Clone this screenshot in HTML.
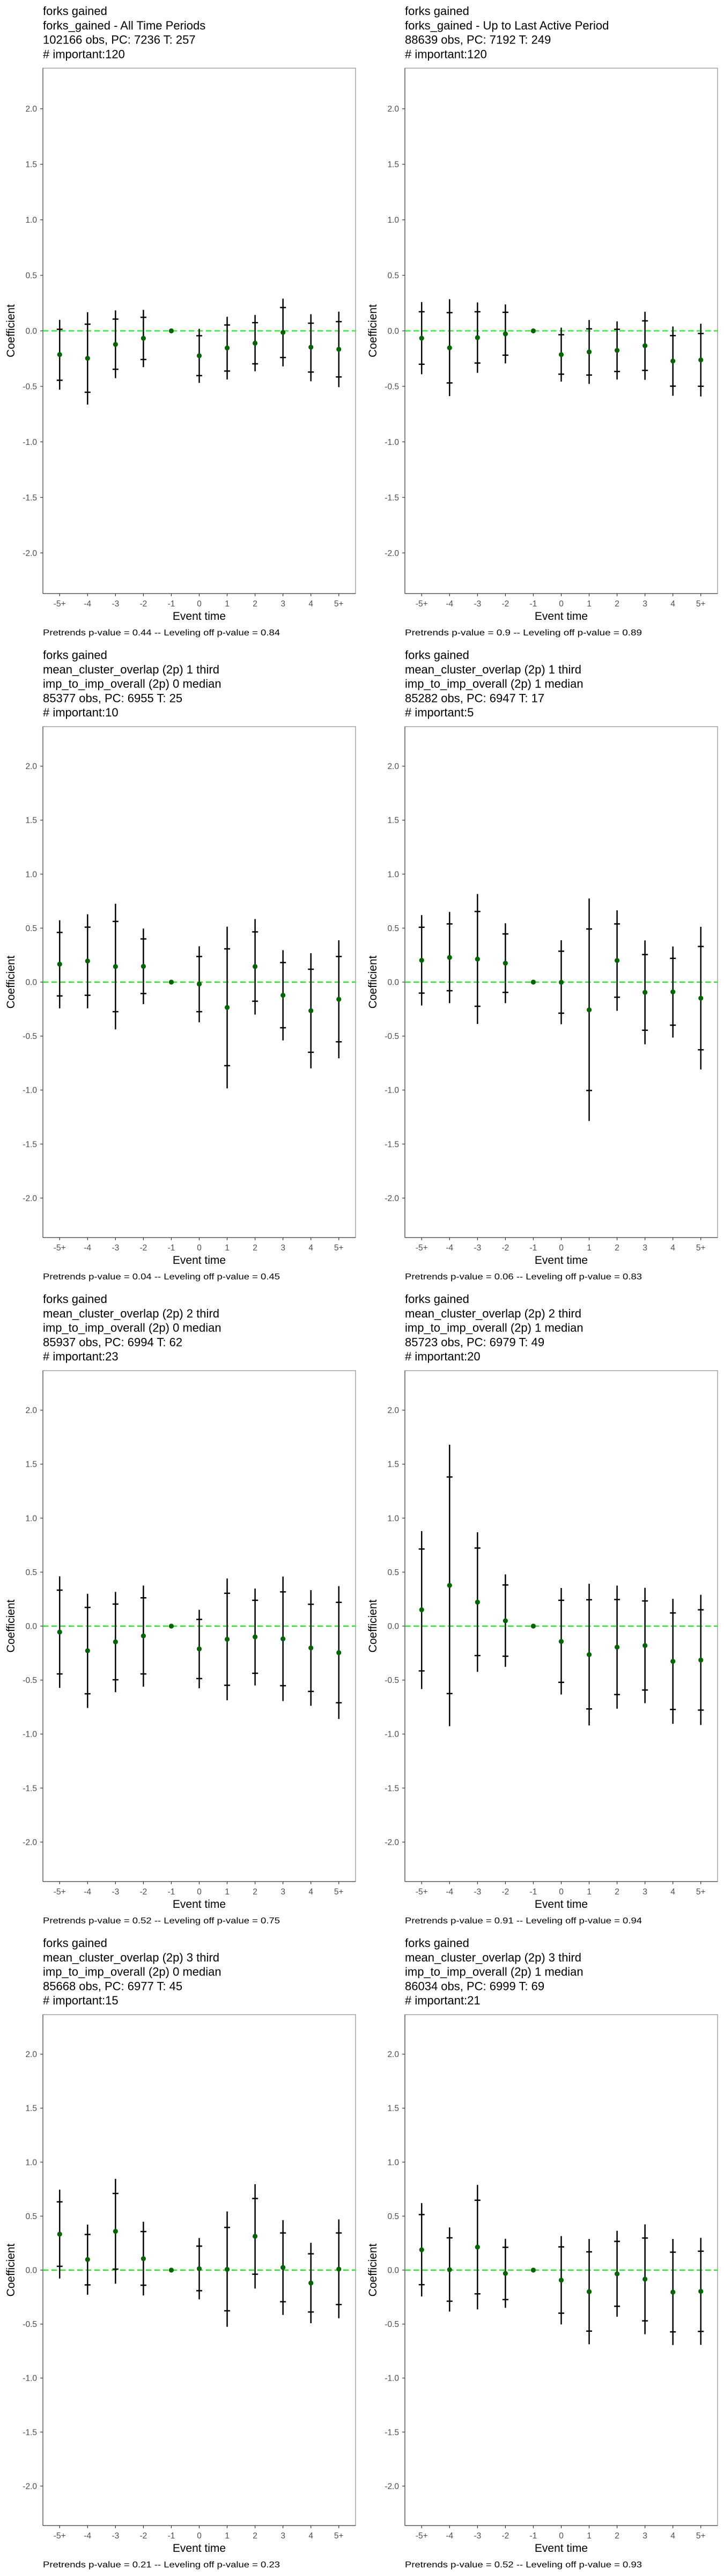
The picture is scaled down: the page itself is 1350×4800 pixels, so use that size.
<!DOCTYPE html>
<html><head><meta charset="utf-8">
<style>
html,body{margin:0;padding:0;background:#fff;}
svg{display:block;font-family:"Liberation Sans",Arial,sans-serif;}
</style></head>
<body>
<svg id="chart" width="1350" height="4800" viewBox="0 0 1350 4800" xmlns="http://www.w3.org/2000/svg"></svg>
<script>
const categories = ["-5+","-4","-3","-2","-1","0","1","2","3","4","5+"];
const yTicks = [-2.0,-1.5,-1.0,-0.5,0.0,0.5,1.0,1.5,2.0];
const yTickLabels = ["-2.0","-1.5","-1.0","-0.5","0.0","0.5","1.0","1.5","2.0"];
const titles = [
 ["forks gained","forks_gained - All Time Periods","102166 obs, PC: 7236 T: 257","# important:120"],
 ["forks gained","forks_gained - Up to Last Active Period","88639 obs, PC: 7192 T: 249","# important:120"],
 ["forks gained","mean_cluster_overlap (2p) 1 third","imp_to_imp_overall (2p) 0 median","85377 obs, PC: 6955 T: 25","# important:10"],
 ["forks gained","mean_cluster_overlap (2p) 1 third","imp_to_imp_overall (2p) 1 median","85282 obs, PC: 6947 T: 17","# important:5"],
 ["forks gained","mean_cluster_overlap (2p) 2 third","imp_to_imp_overall (2p) 0 median","85937 obs, PC: 6994 T: 62","# important:23"],
 ["forks gained","mean_cluster_overlap (2p) 2 third","imp_to_imp_overall (2p) 1 median","85723 obs, PC: 6979 T: 49","# important:20"],
 ["forks gained","mean_cluster_overlap (2p) 3 third","imp_to_imp_overall (2p) 0 median","85668 obs, PC: 6977 T: 45","# important:15"],
 ["forks gained","mean_cluster_overlap (2p) 3 third","imp_to_imp_overall (2p) 1 median","86034 obs, PC: 6999 T: 69","# important:21"]
];
const pretrendsP = ["0.44","0.9","0.04","0.06","0.52","0.91","0.21","0.52"];
const levelingP = ["0.84","0.89","0.45","0.83","0.75","0.94","0.23","0.93"];
const est = [
 [-0.214,-0.247,-0.122,-0.067,0,-0.224,-0.154,-0.111,-0.014,-0.147,-0.166],
 [-0.066,-0.153,-0.061,-0.027,0,-0.214,-0.190,-0.176,-0.134,-0.272,-0.262],
 [0.166,0.195,0.144,0.146,0,-0.018,-0.235,0.144,-0.122,-0.265,-0.159],
 [0.202,0.228,0.213,0.175,0,-0.002,-0.257,0.200,-0.095,-0.091,-0.149],
 [-0.055,-0.228,-0.146,-0.091,0,-0.211,-0.122,-0.100,-0.118,-0.202,-0.246],
 [0.151,0.377,0.222,0.049,0,-0.142,-0.264,-0.195,-0.180,-0.326,-0.315],
 [0.333,0.098,0.359,0.106,0,0.013,0.007,0.313,0.024,-0.120,0.009],
 [0.188,0.004,0.213,-0.031,0,-0.093,-0.200,-0.035,-0.084,-0.204,-0.197]
];
const innerHi = [
 [0.014,0.060,0.106,0.122,null,-0.044,0.053,0.074,0.210,0.069,0.083],
 [0.172,0.164,0.172,0.167,null,-0.035,0.018,0.014,0.090,-0.043,-0.024],
 [0.460,0.509,0.562,0.400,null,0.237,0.308,0.465,0.181,0.119,0.237],
 [0.508,0.539,0.654,0.446,null,0.286,0.492,0.539,0.255,0.220,0.330],
 [0.333,0.173,0.204,0.262,null,0.062,0.304,0.239,0.317,0.202,0.220],
 [0.714,1.381,0.723,0.381,null,0.239,0.244,0.246,0.233,0.122,0.151],
 [0.632,0.330,0.710,0.357,null,0.222,0.395,0.663,0.344,0.151,0.344],
 [0.514,0.299,0.647,0.211,null,0.215,0.169,0.266,0.297,0.166,0.175]
];
const innerLo = [
 [-0.445,-0.553,-0.346,-0.258,null,-0.403,-0.362,-0.297,-0.240,-0.371,-0.415],
 [-0.301,-0.469,-0.290,-0.219,null,-0.390,-0.398,-0.366,-0.356,-0.498,-0.499],
 [-0.128,-0.122,-0.274,-0.106,null,-0.274,-0.774,-0.177,-0.423,-0.650,-0.553],
 [-0.102,-0.080,-0.224,-0.095,null,-0.288,-1.004,-0.140,-0.446,-0.399,-0.627],
 [-0.443,-0.627,-0.497,-0.443,null,-0.486,-0.548,-0.437,-0.552,-0.605,-0.710],
 [-0.415,-0.625,-0.273,-0.279,null,-0.521,-0.767,-0.634,-0.592,-0.772,-0.778],
 [0.035,-0.137,0.009,-0.140,null,-0.191,-0.377,-0.038,-0.293,-0.388,-0.319],
 [-0.135,-0.288,-0.220,-0.273,null,-0.399,-0.565,-0.335,-0.470,-0.572,-0.568]
];
const outerHi = [
 [0.099,0.168,0.184,0.189,null,0.018,0.127,0.143,0.290,0.150,0.173],
 [0.259,0.285,0.256,0.238,null,0.029,0.098,0.085,0.172,0.039,0.064],
 [0.573,0.628,0.726,0.496,null,0.332,0.513,0.584,0.296,0.268,0.387],
 [0.621,0.650,0.816,0.545,null,0.388,0.774,0.665,0.386,0.330,0.512],
 [0.461,0.299,0.317,0.375,null,0.151,0.441,0.348,0.459,0.333,0.370],
 [0.880,1.680,0.869,0.479,null,0.353,0.392,0.375,0.355,0.253,0.290],
 [0.745,0.421,0.845,0.448,null,0.297,0.543,0.796,0.463,0.253,0.470],
 [0.621,0.395,0.789,0.290,null,0.315,0.288,0.364,0.424,0.288,0.299]
];
const outerLo = [
 [-0.530,-0.664,-0.426,-0.327,null,-0.468,-0.438,-0.364,-0.320,-0.454,-0.507],
 [-0.391,-0.588,-0.378,-0.293,null,-0.457,-0.478,-0.438,-0.441,-0.585,-0.591],
 [-0.243,-0.243,-0.438,-0.204,null,-0.372,-0.985,-0.301,-0.540,-0.799,-0.706],
 [-0.217,-0.195,-0.388,-0.195,null,-0.390,-1.286,-0.266,-0.576,-0.514,-0.809],
 [-0.572,-0.758,-0.612,-0.561,null,-0.576,-0.687,-0.550,-0.694,-0.738,-0.860],
 [-0.583,-0.927,-0.424,-0.377,null,-0.634,-0.920,-0.765,-0.714,-0.905,-0.916],
 [-0.078,-0.228,-0.126,-0.235,null,-0.271,-0.525,-0.171,-0.415,-0.492,-0.446],
 [-0.244,-0.384,-0.364,-0.350,null,-0.503,-0.687,-0.432,-0.594,-0.694,-0.692]
];

const NS = "http://www.w3.org/2000/svg";
const svg = document.getElementById("chart");
const Y_LIM = 2.366;
function mk(tag, attrs, parent) {
  const e = document.createElementNS(NS, tag);
  for (const k in attrs) e.setAttribute(k, attrs[k]);
  parent.appendChild(e);
  return e;
}
for (let p = 0; p < 8; p++) {
  const col = p % 2, row = Math.floor(p / 2);
  const ox = col * 675, oy = row * 1200;
  const g = mk("g", {transform: "translate(" + ox + "," + oy + ")"}, svg);
  
  
  const left = 80, right = 663, bottom = 1106;
  const top = titles[p].length === 4 ? 127 : 154;
  const yScale = v => (top + bottom) / 2 - v * (bottom - top) / (2 * Y_LIM);
  const step = (right - left) / (categories.length + 0.2);
  const xScale = i => left + step * (0.6 + i);

  // title
  const tt = mk("text", {x: left, "font-size": "22", fill: "#000"}, g);
  
  
  titles[p].forEach((line, i) => {
    const ts = mk("tspan", {x: left, y: 28 + i * 26.8}, tt);
    ts.textContent = line;
  });

  // panel border
  const border = mk("rect", {x: left, y: top, width: right - left, height: bottom - top, fill: "none", stroke: "#8a8a8a", "stroke-width": "1.2"}, g);
  
  
  const axL = mk("line", {x1: left, y1: top, x2: left, y2: bottom, stroke: "#444", "stroke-width": "1.2"}, g);
  
  
  const axB = mk("line", {x1: left, y1: bottom, x2: right, y2: bottom, stroke: "#444", "stroke-width": "1.2"}, g);
  
  

  // y ticks
  yTicks.forEach((v, i) => {
    const y = yScale(v);
    const tk = mk("line", {x1: left - 5, y1: y, x2: left, y2: y, stroke: "#333", "stroke-width": "1.2"}, g);
    
    
    const lb = mk("text", {x: left - 11, y: y + 5.5, "text-anchor": "end", "font-size": "15.5", fill: "#4d4d4d"}, g);
    
    
    lb.textContent = yTickLabels[i];
  });
  // x ticks
  categories.forEach((c, i) => {
    const x = xScale(i);
    const tk = mk("line", {x1: x, y1: bottom, x2: x, y2: bottom + 5, stroke: "#333", "stroke-width": "1.2"}, g);
    
    
    const lb = mk("text", {x: x, y: 1130, "text-anchor": "middle", "font-size": "15.5", fill: "#4d4d4d"}, g);
    
    
    lb.textContent = c;
  });
  // axis titles
  const xt = mk("text", {x: (left + right) / 2, y: 1155, "text-anchor": "middle", "font-size": "21", fill: "#000"}, g);
  
  
  xt.textContent = "Event time";
  const cy = (top + bottom) / 2;
  const yt = mk("text", {x: 27, y: cy, "text-anchor": "middle", "font-size": "21", fill: "#000", transform: "rotate(-90 27 " + cy + ")"}, g);
  
  
  yt.textContent = "Coefficient";

  // zero line
  const zl = mk("line", {x1: left, y1: yScale(0), x2: right, y2: yScale(0), stroke: "#00ee00", "stroke-width": "2", "stroke-dasharray": "10,6"}, g);
  
  

  // error bars and points
  categories.forEach((c, i) => {
    const x = xScale(i);
    if (outerHi[p][i] !== null) {
      const eb = mk("line", {x1: x, y1: yScale(outerHi[p][i]), x2: x, y2: yScale(outerLo[p][i]), stroke: "#000", "stroke-width": "2.5"}, g);
      
      
      [innerHi[p][i], innerLo[p][i]].forEach(v => {
        const t = mk("line", {x1: x - 5.5, y1: yScale(v), x2: x + 5.5, y2: yScale(v), stroke: "#000", "stroke-width": "2.5"}, g);
        
        
      });
    }
    const pt = mk("circle", {cx: x, cy: yScale(est[p][i]), r: "4.6", fill: "#006400"}, g);
    
    
  });

  // caption
  const cap = mk("text", {x: left, y: 1184, "font-size": "15.5", fill: "#000", textLength: "442", lengthAdjust: "spacingAndGlyphs"}, g);
  
  
  cap.textContent = "Pretrends p-value = " + pretrendsP[p] + " -- Leveling off p-value = " + levelingP[p];
}
</script>
</body></html>
